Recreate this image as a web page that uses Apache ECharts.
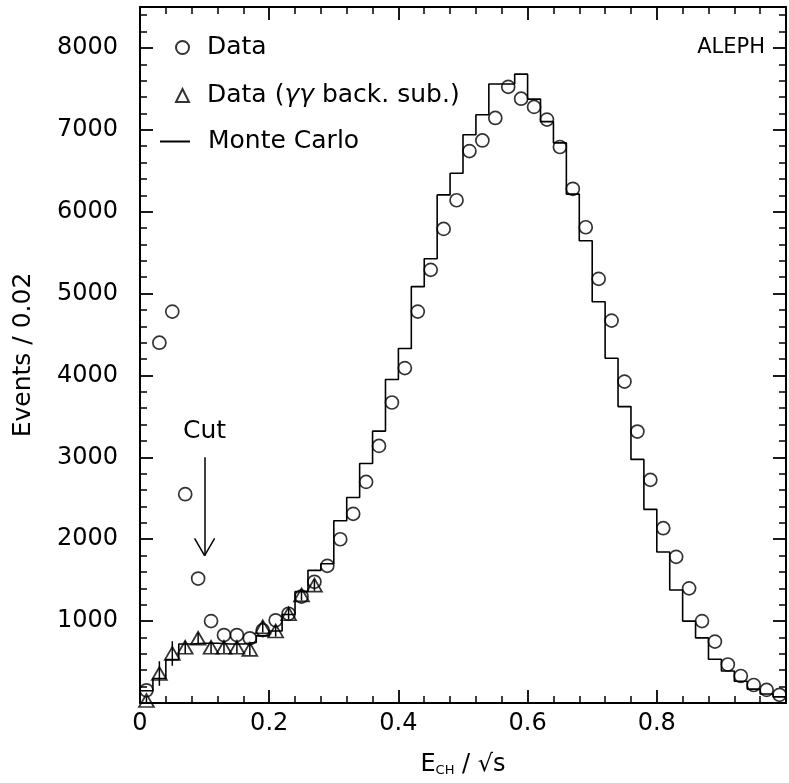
<!DOCTYPE html>
<html><head><meta charset="utf-8">
<script src="https://cdn.jsdelivr.net/npm/echarts@6/dist/echarts.min.js"></script>
<style>html,body{margin:0;padding:0;background:#fff}#c{width:789px;height:783px}</style>
</head><body><div id="c"></div>
<script>
// Bin edges (width 0.02) and bin centres
const binEdges = [0.00,0.02,0.04,0.06,0.08,0.10,0.12,0.14,0.16,0.18,0.20,0.22,0.24,0.26,0.28,0.30,0.32,0.34,0.36,0.38,0.40,0.42,0.44,0.46,0.48,0.50,0.52,0.54,0.56,0.58,0.60,0.62,0.64,0.66,0.68,0.70,0.72,0.74,0.76,0.78,0.80,0.82,0.84,0.86,0.88,0.90,0.92,0.94,0.96,0.98,1.00];
const binCenters = [0.01,0.03,0.05,0.07,0.09,0.11,0.13,0.15,0.17,0.19,0.21,0.23,0.25,0.27,0.29,0.31,0.33,0.35,0.37,0.39,0.41,0.43,0.45,0.47,0.49,0.51,0.53,0.55,0.57,0.59,0.61,0.63,0.65,0.67,0.69,0.71,0.73,0.75,0.77,0.79,0.81,0.83,0.85,0.87,0.89,0.91,0.93,0.95,0.97,0.99];

// Data (circles)
const dataValues = [155,4400,4780,2550,1520,1000,830,830,790,890,1010,1090,1300,1480,1675,2000,2310,2700,3140,3670,4090,4780,5290,5790,6140,6740,6870,7145,7525,7380,7280,7125,6790,6280,5810,5180,4670,3925,3315,2725,2135,1785,1400,1000,750,470,330,220,160,100];

// Data with gamma-gamma background subtracted (triangles)
const triX = [0.01,0.03,0.05,0.07,0.09,0.11,0.13,0.15,0.17,0.19,0.21,0.23,0.25,0.27];
const triValues = [30,360,605,680,790,680,680,680,655,930,880,1090,1320,1440];
const triErrors = [40,150,150,80,70,70,70,70,70,70,70,70,70,70];

// Monte Carlo histogram (value per bin)
const mcValues = [150,300,530,720,730,730,720,720,740,820,880,1080,1360,1620,1700,2225,2510,2925,3320,3950,4330,5085,5425,6205,6470,6940,7185,7560,7560,7680,7375,7100,6840,6215,5645,4900,4210,3620,2975,2365,1845,1380,1000,795,535,390,265,170,110,75];

// Cut annotation
const cutX = 0.1, cutTop = 3000, cutTip = 1800, cutLabelY = 3310;

const FONT = 'DejaVu Sans';
const chart = echarts.init(document.getElementById('c'), null, {renderer: 'canvas'});

const mcData = binEdges.map((e, i) => [e, mcValues[Math.min(i, mcValues.length - 1)]]);

function axisCommon() {
  return {
    axisLine: {show: true, onZero: false, lineStyle: {color: '#000', width: 2}},
    axisTick: {show: true, inside: true, length: 13, lineStyle: {color: '#000', width: 1.8}},
    minorTick: {show: true, splitNumber: 5, length: 7, lineStyle: {color: '#000', width: 1.5}},
    splitLine: {show: false},
    minorSplitLine: {show: false}
  };
}

const legendText = {
  color: '#000', fontFamily: FONT, fontSize: 25,
  rich: {
    i: {fontFamily: FONT, fontSize: 25, fontStyle: 'italic', color: '#000'},
    sp: {width: 13}
  }
};

const option = {
  animation: false,
  backgroundColor: '#fff',
  grid: {left: 140, top: 7, width: 647, height: 696, containLabel: false},
  xAxis: [
    Object.assign(axisCommon(), {
      type: 'value', min: 0, max: 1, interval: 0.2, position: 'bottom',
      axisLabel: {show: true, margin: 9, color: '#000', fontFamily: FONT, fontSize: 24,
        formatter: v => (v === 0 ? '0' : (v > 0.95 ? '' : v.toFixed(1)))},
      name: '{m|E}{s|CH}{m| / √s}', nameLocation: 'middle', nameGap: 50,
      nameTextStyle: {color: '#000', fontFamily: FONT, fontSize: 24,
        rich: {m: {fontFamily: FONT, fontSize: 24, color: '#000'},
               s: {fontFamily: FONT, fontSize: 13, color: '#000', verticalAlign: 'bottom'}}}
    }),
    Object.assign(axisCommon(), {
      type: 'value', min: 0, max: 1, interval: 0.2, position: 'top',
      axisLabel: {show: false}
    })
  ],
  yAxis: [
    Object.assign(axisCommon(), {
      type: 'value', min: 0, max: 8500, interval: 1000, position: 'left',
      axisLabel: {show: true, margin: 22, color: '#000', fontFamily: FONT, fontSize: 24,
        formatter: v => (v > 0 && v <= 8000 && v % 1000 === 0 ? String(v) : '')},
      name: 'Events / 0.02', nameLocation: 'middle', nameGap: 104,
      nameTextStyle: {color: '#000', fontFamily: FONT, fontSize: 25}
    }),
    Object.assign(axisCommon(), {
      type: 'value', min: 0, max: 8500, interval: 1000, position: 'right',
      axisLabel: {show: false}
    })
  ],
  legend: [
    {
      orient: 'vertical', left: 170, top: 30, itemGap: 23, itemWidth: 13, itemHeight: 13,
      symbolKeepAspect: true,
      data: [{name: 'Data'}, {name: 'Data (γγ back. sub.)'}],
      formatter: n => '{sp|}' + n.replace('γγ', '{i|γγ}'),
      textStyle: legendText,
      selectedMode: false
    },
    {
      orient: 'vertical', left: 154, top: 124, itemWidth: 30, itemHeight: 12,
      data: [{name: 'Monte Carlo', itemStyle: {color: 'rgba(0,0,0,0)', borderWidth: 0, opacity: 0}}],
      formatter: n => '{sp|}' + n,
      textStyle: legendText,
      selectedMode: false
    }
  ],
  graphic: [
    {type: 'text', right: 24, top: 37, style: {text: 'ALEPH', fontFamily: FONT, fontSize: 21, fill: '#000'}}
  ],
  series: [
    {
      name: 'Monte Carlo', type: 'line', step: 'end', data: mcData,
      showSymbol: false, symbol: 'none',
      lineStyle: {color: '#000', width: 1.6}, itemStyle: {color: '#000'},
      z: 2, silent: true,
      markLine: {
        silent: true, symbol: ['none', 'none'], animation: false,
        label: {show: false},
        lineStyle: {color: '#000', width: 1.5, type: 'solid'},
        data: [
          [{coord: [cutX, cutTop]}, {coord: [cutX, cutTip]}],
          [{coord: [cutX, cutTip]}, {coord: [cutX - 0.0155, cutTip + 210]}],
          [{coord: [cutX, cutTip]}, {coord: [cutX + 0.0155, cutTip + 210]}]
        ]
      },
      markPoint: {
        silent: true, symbol: 'circle', symbolSize: 0,
        label: {show: true, position: 'inside', formatter: 'Cut', color: '#000', fontFamily: FONT, fontSize: 25},
        data: [{coord: [cutX, cutLabelY]}]
      }
    },
    {
      name: 'err', type: 'custom', silent: true, z: 3,
      data: triX.map((x, i) => [x, triValues[i] - triErrors[i], triValues[i] + triErrors[i]]),
      encode: {x: 0, y: [1, 2]},
      renderItem: (params, api) => {
        const lo = api.coord([api.value(0), api.value(1)]);
        const hi = api.coord([api.value(0), api.value(2)]);
        return {type: 'line', shape: {x1: lo[0], y1: lo[1], x2: hi[0], y2: hi[1]},
                style: {stroke: '#000', lineWidth: 1.5}};
      }
    },
    {
      name: 'Data', type: 'scatter', symbol: 'circle', symbolSize: 13,
      data: binCenters.map((x, i) => [x, dataValues[i]]),
      itemStyle: {color: 'rgba(255,255,255,0)', borderColor: '#000', borderWidth: 1.7},
      z: 4, silent: true
    },
    {
      name: 'Data (γγ back. sub.)', type: 'scatter', symbol: 'triangle', symbolSize: [15, 13],
      data: triX.map((x, i) => [x, triValues[i]]),
      itemStyle: {color: 'rgba(255,255,255,0)', borderColor: '#000', borderWidth: 1.7},
      z: 5, silent: true
    }
  ]
};
chart.setOption(option);
</script></body></html>
